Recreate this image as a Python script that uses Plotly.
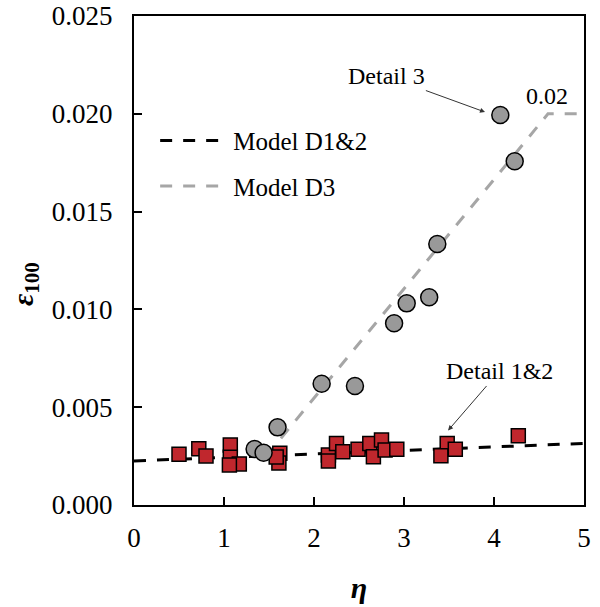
import plotly.graph_objects as go

# Detail 1&2 (red squares)
d12_eta = [0.50, 0.72, 0.80, 1.07, 1.07, 1.17, 1.06, 1.62, 1.61, 1.58,
           2.16, 2.16, 2.25, 2.32, 2.49, 2.62, 2.66, 2.75, 2.79, 2.92,
           3.48, 3.41, 3.57, 4.27]
d12_eps = [0.00259, 0.00288, 0.00251, 0.00307, 0.00244, 0.00210, 0.00205, 0.00264, 0.00215, 0.00245,
           0.00256, 0.00225, 0.00315, 0.00272, 0.00285, 0.00315, 0.00247, 0.00332, 0.00281, 0.00285,
           0.00315, 0.00252, 0.00285, 0.00354]

# Detail 3 (gray circles)
d3_eta = [1.34, 1.44, 1.595, 2.085, 2.455, 2.89, 3.03, 3.28, 3.37, 4.07, 4.23]
d3_eps = [0.00286, 0.00267, 0.00397, 0.00620, 0.00608, 0.00929, 0.01031, 0.01062, 0.01334, 0.01994, 0.01757]

# Models
m12_eta = [0.0, 5.0]
m12_eps = [0.00225, 0.00315]
m3_eta = [1.47, 4.6, 5.0]
m3_eps = [0.0025, 0.020, 0.020]

x_ticks = [0, 1, 2, 3, 4, 5]
y_ticks = [0.000, 0.005, 0.010, 0.015, 0.020, 0.025]

FONT = "Liberation Serif"

fig = go.Figure()
fig.add_trace(go.Scatter(x=m12_eta, y=m12_eps, mode="lines", name="Model D1&2", legendgroup="a",
                         line=dict(color="black", width=3, dash="12px,11px")))
fig.add_trace(go.Scatter(x=m3_eta, y=m3_eps, mode="lines", name="Model D3", legendgroup="b",
                         line=dict(color="#a6a6a6", width=3, dash="12px,11px")))
fig.add_trace(go.Scatter(x=d12_eta, y=d12_eps, mode="markers", showlegend=False,
                         marker=dict(symbol="square", size=14, color="#c0272d",
                                     line=dict(color="black", width=1.5))))
fig.add_trace(go.Scatter(x=d3_eta, y=d3_eps, mode="markers", showlegend=False,
                         marker=dict(symbol="circle", size=17, color="#999999",
                                     line=dict(color="black", width=1.5))))

fig.add_annotation(x=3.90, y=0.02009, ax=-99, ay=-36, text="Detail 3",
                   showarrow=True, arrowhead=2, arrowsize=1, arrowwidth=1,
                   arrowcolor="#333333", font=dict(family=FONT, size=24, color="black"))
fig.add_annotation(x=3.49, y=0.00381, ax=51, ay=-59, text="Detail 1&2",
                   showarrow=True, arrowhead=2, arrowsize=1, arrowwidth=1,
                   arrowcolor="#333333", font=dict(family=FONT, size=24, color="black"))
fig.add_annotation(x=4.59, y=0.0209, text="0.02", showarrow=False,
                   font=dict(family=FONT, size=24, color="black"))

# y-axis title (placed a little below the axis centre, as in the reference)
fig.add_annotation(xref="paper", yref="paper", x=-0.242, y=0.452, textangle=-90,
                   xanchor="center", yanchor="middle", showarrow=False,
                   text="<b><i>ε</i><sub>100</sub></b>",
                   font=dict(family=FONT, size=30, color="black"))

axis_common = dict(showline=True, linecolor="black", linewidth=2, mirror=True,
                   ticks="inside", ticklen=8, tickwidth=1.5, tickcolor="black",
                   showgrid=False, zeroline=False, automargin=False,
                   tickfont=dict(family=FONT, size=27, color="black"))

fig.update_xaxes(range=[0, 5], tickvals=x_ticks, ticktext=[str(v) for v in x_ticks],
                 ticklabelstandoff=8,
                 title=dict(text="<b><i>η</i></b>", font=dict(family=FONT, size=30, color="black"),
                            standoff=25),
                 **axis_common)
fig.update_yaxes(range=[0, 0.025], tickvals=y_ticks, ticktext=[f"{v:.3f}" for v in y_ticks],
                 ticklabelstandoff=14,
                 **axis_common)

fig.update_layout(width=600, height=607, margin=dict(l=134, r=16, t=16, b=102),
                  plot_bgcolor="white", paper_bgcolor="white",
                  legend=dict(x=0.047, y=0.792, xanchor="left", yanchor="top",
                              bgcolor="rgba(0,0,0,0)", font=dict(family=FONT, size=25, color="black"),
                              tracegroupgap=10, itemwidth=68))

fig.write_html("out.html", config={"displayModeBar": False})

# remove default page margin so the figure sits at the window's top-left corner
with open("out.html", "r", encoding="utf-8") as f:
    html = f.read()
html = html.replace("<head>", "<head><style>body{margin:0;padding:0;}</style>", 1)
with open("out.html", "w", encoding="utf-8") as f:
    f.write(html)
